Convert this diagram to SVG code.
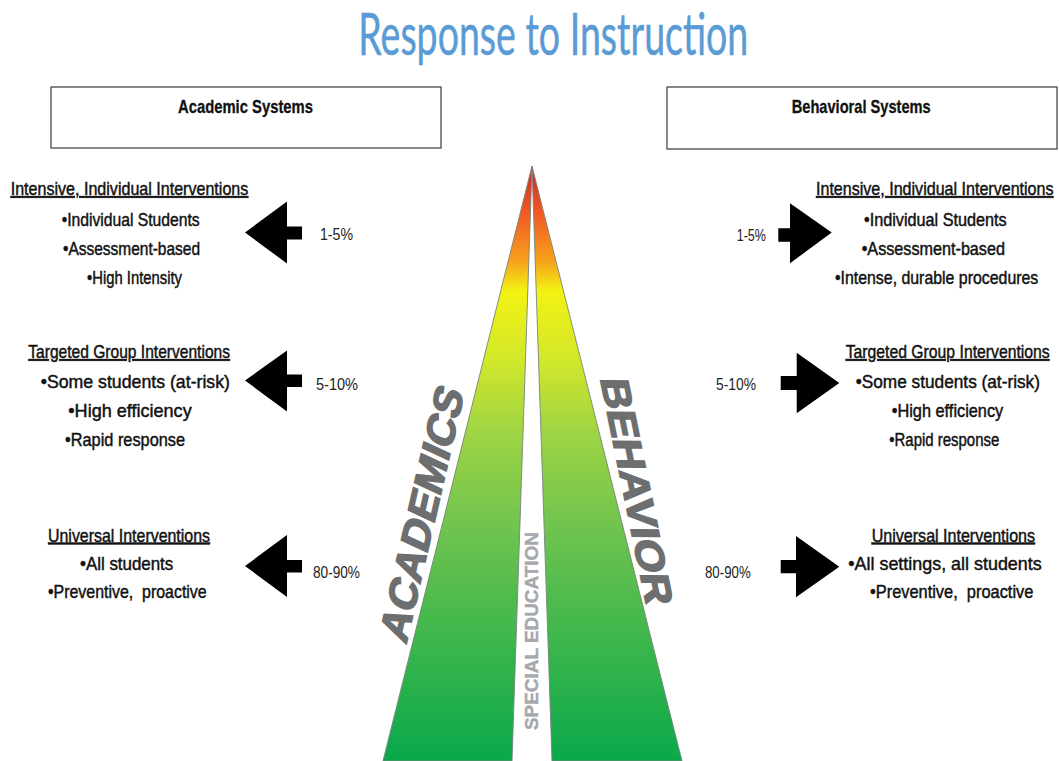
<svg xmlns="http://www.w3.org/2000/svg" width="1059" height="761" viewBox="0 0 1059 761">
<defs>
<linearGradient id="tri" gradientUnits="userSpaceOnUse" x1="0" y1="166" x2="0" y2="761">
<stop offset="0" stop-color="#d2232a"/>
<stop offset="0.08" stop-color="#f15a24"/>
<stop offset="0.16" stop-color="#f7a21b"/>
<stop offset="0.21" stop-color="#f2f213"/>
<stop offset="0.32" stop-color="#d4e829"/>
<stop offset="0.45" stop-color="#9dd444"/>
<stop offset="0.62" stop-color="#6cc24f"/>
<stop offset="0.8" stop-color="#3cb64c"/>
<stop offset="1" stop-color="#0aa84b"/>
</linearGradient>
<style>
.t{font-family:"Liberation Sans Narrow","Liberation Sans",Arial,sans-serif;font-size:18px;fill:#111;stroke:#111;stroke-width:0.45;}
.h{text-decoration:underline;}
.p{font-family:"Liberation Sans Narrow","Liberation Sans",Arial,sans-serif;font-size:16px;fill:#222;}
.bx{fill:#fff;stroke:#3a3a3a;stroke-width:1.2;}
.bt{font-family:"Liberation Sans Narrow","Liberation Sans",Arial,sans-serif;font-size:19px;font-weight:bold;fill:#111;stroke:#111;stroke-width:0.3;}
.arw{fill:#000;}
.strip{fill:url(#tri);stroke:#76847a;stroke-width:0.9;}
.big{font-family:"Liberation Sans",Arial,sans-serif;font-weight:bold;fill:#6d6e70;stroke:#6d6e70;stroke-width:1.5;}
.se{font-family:"Liberation Sans",Arial,sans-serif;font-weight:bold;font-size:17.5px;fill:#a6a8ab;stroke:#a6a8ab;stroke-width:0.4;}
</style>
</defs>
<rect width="1059" height="761" fill="#fff"/>

<g id="title">
<text x="358.3" y="55" textLength="390" lengthAdjust="spacingAndGlyphs" font-family="Lato,'Open Sans','Liberation Sans',sans-serif" font-size="58" fill="#5b9bd5" stroke="#5b9bd5" stroke-width="0.5">Response to Instruction</text>
</g>

<g id="academic-box">
<rect class="bx" x="51" y="87" width="390" height="61"/>
<text class="bt" x="178" y="113" textLength="135" lengthAdjust="spacingAndGlyphs">Academic Systems</text>
</g>
<g id="behavioral-box">
<rect class="bx" x="667" y="87" width="390" height="62"/>
<text class="bt" x="791.7" y="113.3" textLength="139" lengthAdjust="spacingAndGlyphs">Behavioral Systems</text>
</g>

<g id="pyramid">
<polygon class="strip" points="532,166 383,761 512,761"/>
<polygon class="strip" points="532,166 552,761 682,761"/>
<text class="big" font-size="41" transform="translate(406,645) rotate(-77) skewX(-12)" textLength="258" lengthAdjust="spacingAndGlyphs">ACADEMICS</text>
<text class="big" font-size="39" transform="translate(600,378) rotate(78.5) skewX(-12)" textLength="231" lengthAdjust="spacingAndGlyphs">BEHAVIOR</text>
<text class="se" transform="translate(538.3,730) rotate(-90)" textLength="198" lengthAdjust="spacingAndGlyphs">SPECIAL EDUCATION</text>
</g>

<g id="academic-tier1">
<text class="t h" transform="translate(10.7,195) scale(0.88,1)" textLength="270" lengthAdjust="spacingAndGlyphs">Intensive, Individual Interventions</text>
<text class="t" transform="translate(61.7,225.5) scale(0.88,1)" textLength="156.8" lengthAdjust="spacingAndGlyphs">•Individual Students</text>
<text class="t" transform="translate(63,255) scale(0.88,1)" textLength="155.7" lengthAdjust="spacingAndGlyphs">•Assessment-based</text>
<text class="t" transform="translate(87,284) scale(0.88,1)" textLength="108" lengthAdjust="spacingAndGlyphs">•High Intensity</text>
<text class="p" x="320" y="240" textLength="33" lengthAdjust="spacingAndGlyphs">1-5%</text>
</g>
<g id="academic-tier2">
<text class="t h" transform="translate(28.3,358) scale(0.88,1)" textLength="229.2" lengthAdjust="spacingAndGlyphs">Targeted Group Interventions</text>
<text class="t" transform="translate(40.7,387.5) scale(0.88,1)" textLength="215.1" lengthAdjust="spacingAndGlyphs">•Some students (at-risk)</text>
<text class="t" transform="translate(68.3,416.5) scale(0.88,1)" textLength="140.2" lengthAdjust="spacingAndGlyphs">•High efficiency</text>
<text class="t" transform="translate(65,445.5) scale(0.88,1)" textLength="136.4" lengthAdjust="spacingAndGlyphs">•Rapid response</text>
<text class="p" x="316" y="390" textLength="42" lengthAdjust="spacingAndGlyphs">5-10%</text>
</g>
<g id="academic-tier3">
<text class="t h" transform="translate(48,541.5) scale(0.88,1)" textLength="184.1" lengthAdjust="spacingAndGlyphs">Universal Interventions</text>
<text class="t" transform="translate(80,570) scale(0.88,1)" textLength="106" lengthAdjust="spacingAndGlyphs">•All students</text>
<text class="t" transform="translate(48,597.5) scale(0.88,1)" textLength="180.3" lengthAdjust="spacingAndGlyphs" xml:space="preserve">•Preventive,  proactive</text>
<text class="p" x="313" y="578.3" textLength="47" lengthAdjust="spacingAndGlyphs">80-90%</text>
</g>

<g id="behavior-tier1">
<text class="t h" transform="translate(816,195) scale(0.88,1)" textLength="269.9" lengthAdjust="spacingAndGlyphs">Intensive, Individual Interventions</text>
<text class="t" transform="translate(864,225.5) scale(0.88,1)" textLength="162.2" lengthAdjust="spacingAndGlyphs">•Individual Students</text>
<text class="t" transform="translate(861.7,255) scale(0.88,1)" textLength="162.8" lengthAdjust="spacingAndGlyphs">•Assessment-based</text>
<text class="t" transform="translate(835,284) scale(0.88,1)" textLength="231" lengthAdjust="spacingAndGlyphs">•Intense, durable procedures</text>
<text class="p" x="736.7" y="241" textLength="29.3" lengthAdjust="spacingAndGlyphs">1-5%</text>
</g>
<g id="behavior-tier2">
<text class="t h" transform="translate(845.7,358) scale(0.88,1)" textLength="231.8" lengthAdjust="spacingAndGlyphs">Targeted Group Interventions</text>
<text class="t" transform="translate(855.7,387.5) scale(0.88,1)" textLength="209.4" lengthAdjust="spacingAndGlyphs">•Some students (at-risk)</text>
<text class="t" transform="translate(891.7,416.5) scale(0.88,1)" textLength="126.8" lengthAdjust="spacingAndGlyphs">•High efficiency</text>
<text class="t" transform="translate(889.3,445.5) scale(0.88,1)" textLength="125" lengthAdjust="spacingAndGlyphs">•Rapid response</text>
<text class="p" x="716" y="390" textLength="40" lengthAdjust="spacingAndGlyphs">5-10%</text>
</g>
<g id="behavior-tier3">
<text class="t h" transform="translate(871.7,541.5) scale(0.88,1)" textLength="185.6" lengthAdjust="spacingAndGlyphs">Universal Interventions</text>
<text class="t" transform="translate(848.3,570) scale(0.88,1)" textLength="219.8" lengthAdjust="spacingAndGlyphs">•All settings, all students</text>
<text class="t" transform="translate(870,597.5) scale(0.88,1)" textLength="185.6" lengthAdjust="spacingAndGlyphs" xml:space="preserve">•Preventive,  proactive</text>
<text class="p" x="705" y="578.3" textLength="45.7" lengthAdjust="spacingAndGlyphs">80-90%</text>
</g>

<g id="connectors">
<polygon class="arw" points="245,232.5 287,201.5 287,226.5 302,226.5 302,239.5 287,239.5 287,263.5"/>
<polygon class="arw" points="245,380.5 287,350.5 287,374.5 302,374.5 302,387 287,387 287,411.5"/>
<polygon class="arw" points="245,566 287,535 287,560 302,560 302,572.5 287,572.5 287,597"/>
<polygon class="arw" points="831.7,232.5 790,203.3 790,228.3 778.3,228.3 778.3,241.7 790,241.7 790,263.3"/>
<polygon class="arw" points="839.3,383 796.7,352.7 796.7,376 780.7,376 780.7,390 796.7,390 796.7,413.3"/>
<polygon class="arw" points="839.3,566.7 796,536 796,560 780.7,560 780.7,573.3 796,573.3 796,597.3"/>
</g>
</svg>
